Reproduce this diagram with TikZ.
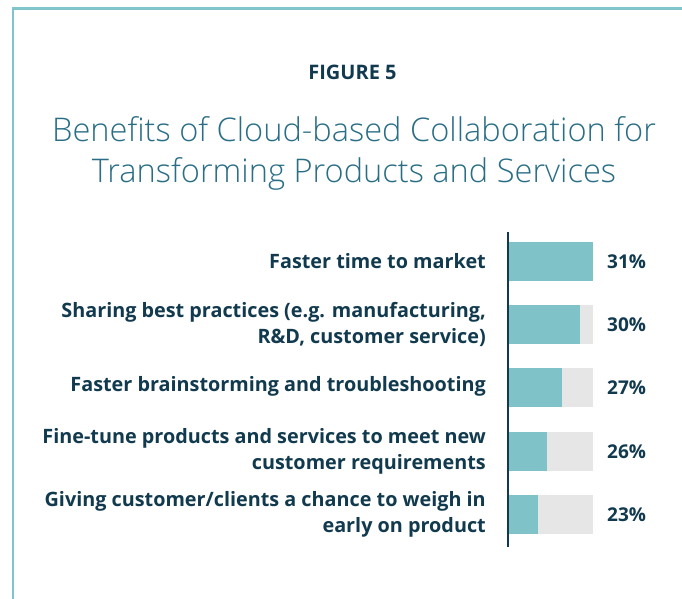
\documentclass[tikz,border=0pt]{standalone}
\usepackage{fontspec}
\setmainfont{Open Sans}
\newfontfamily\titlefont{Open Sans Light}
\definecolor{border}{HTML}{80C5CA}
\definecolor{titleblue}{HTML}{2A6E86}
\definecolor{navy}{HTML}{123A4F}
\definecolor{barteal}{HTML}{7FC3C9}
\definecolor{bargrey}{HTML}{E6E6E6}
\tikzset{
  lbl/.style={anchor=east, align=right, text=navy, font=\fontsize{19.8}{26}\selectfont\bfseries, inner sep=0pt},
  pct/.style={anchor=west, text=navy, font=\fontsize{19}{22}\selectfont\bfseries, inner sep=0pt},
  ttl/.style={text=titleblue, font=\fontsize{32.6}{41}\selectfont\titlefont, inner sep=0pt, align=center},
  bg/.style={fill=bargrey, draw=none},
  fg/.style={fill=barteal, draw=none},
  frame/.style={draw=border, line width=2.5pt},
  axis/.style={draw=navy, line width=2.4pt}
}
\begin{document}
\begin{tikzpicture}[x=1pt,y=-1pt]
\useasboundingbox[fill=white] (0,0) rectangle (682,599);
% frame
\coordinate (fa) at (682,8.5);
\coordinate (fb) at (13,8.5);
\coordinate (fc) at (13,599);
\draw[frame] (fa) -- (fb) -- (fc);
% heading
\node[text=navy, font=\fontsize{20}{22}\selectfont\bfseries, inner sep=0pt] (fig) at (352.5,72) {FIGURE 5};
\node[ttl] (title) at (354,153) {Benefits of Cloud-based Collaboration for\\Transforming Products and Services};
% bars
\foreach \i/\yc/\w in {1/261.5/84, 2/324.5/71, 3/387.5/53, 4/451.5/38, 5/514.5/29}{
  \fill[bargrey] (509,\yc-19.5) rectangle (593,\yc+19.5);
  \fill[barteal] (509,\yc-19.5) rectangle (509+\w,\yc+19.5);
}
% axis
\coordinate (ax1) at (508,232);
\coordinate (ax2) at (508,547);
\draw[axis] (ax1) -- (ax2);
% labels
\node[lbl] (l1) at (486,261.5) {Faster time to market};
\node[lbl] (l2) at (486,324.5) {Sharing best practices (e.g. manufacturing,\\R\&D, customer service)};
\node[lbl] (l3) at (486,386.5) {Faster brainstorming and troubleshooting};
\node[lbl] (l4) at (486,451.5) {Fine-tune products and services to meet new\\customer requirements};
\node[lbl] (l5) at (486,514.5) {Giving customer/clients a chance to weigh in\\early on product};
% percentages
\node[pct] (p1) at (607,261.5) {31\%};
\node[pct] (p2) at (607,324.5) {30\%};
\node[pct] (p3) at (607,387.5) {27\%};
\node[pct] (p4) at (607,451.5) {26\%};
\node[pct] (p5) at (607,514.5) {23\%};
\end{tikzpicture}
\end{document}
